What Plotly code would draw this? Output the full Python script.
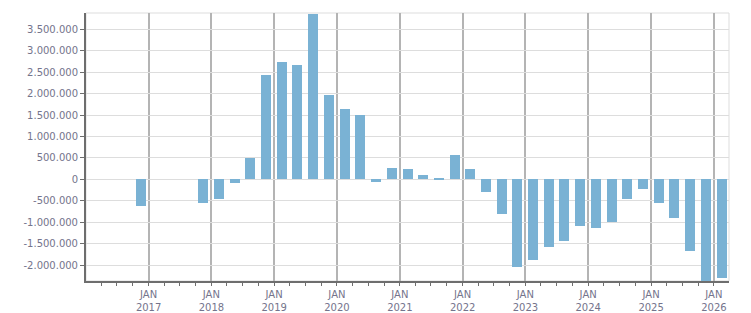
import plotly.graph_objects as go

quarters = ["2016-10-01", "2017-10-01",
            "2018-01-01", "2018-04-01", "2018-07-01", "2018-10-01",
            "2019-01-01", "2019-04-01", "2019-07-01", "2019-10-01",
            "2020-01-01", "2020-04-01", "2020-07-01", "2020-10-01",
            "2021-01-01", "2021-04-01", "2021-07-01", "2021-10-01",
            "2022-01-01", "2022-04-01", "2022-07-01", "2022-10-01",
            "2023-01-01", "2023-04-01", "2023-07-01", "2023-10-01",
            "2024-01-01", "2024-04-01", "2024-07-01", "2024-10-01",
            "2025-01-01", "2025-04-01", "2025-07-01", "2025-10-01",
            "2026-01-01"]
values = [-615000, -550000,
          -462000, -87000, 503000, 2448000,
          2730000, 2660000, 3870000, 1979000,
          1650000, 1509000, -63000, 265000,
          238000, 100000, 30000, 568000,
          240000, -298000, -815000, -2035000,
          -1871000, -1589000, -1448000, -1096000,
          -1143000, -1002000, -462000, -228000,
          -556000, -908000, -1683000, -2450000,
          -2293000]

y_tickvals = [-2000000, -1500000, -1000000, -500000, 0, 500000, 1000000,
              1500000, 2000000, 2500000, 3000000, 3500000]
y_ticktext = ["-2.000.000", "-1.500.000", "-1.000.000", "-500.000", "0",
              "500.000", "1.000.000", "1.500.000", "2.000.000", "2.500.000",
              "3.000.000", "3.500.000"]
x_tickvals = ["2017-01-01", "2018-01-01", "2019-01-01", "2020-01-01",
              "2021-01-01", "2022-01-01", "2023-01-01", "2024-01-01",
              "2025-01-01", "2026-01-01"]
x_ticktext = ["JAN<br>2017", "JAN<br>2018", "JAN<br>2019", "JAN<br>2020",
              "JAN<br>2021", "JAN<br>2022", "JAN<br>2023", "JAN<br>2024",
              "JAN<br>2025", "JAN<br>2026"]

DAY = 86400000
fig = go.Figure(go.Bar(
    x=quarters, y=values,
    xperiod="M3", xperiodalignment="middle",
    width=58 * DAY,
    marker=dict(color="#7ab2d4", line=dict(width=0)),
))

label_font = dict(family="DejaVu Sans", size=10, color="#74748c")

fig.update_layout(
    width=751, height=313,
    margin=dict(l=86, r=22, t=13, b=32),
    paper_bgcolor="white", plot_bgcolor="white",
    showlegend=False,
    bargap=0,
    shapes=[dict(type="rect", xref="paper", yref="paper", x0=0, x1=1, y0=0, y1=1,
                 line=dict(color="#dddddd", width=1), layer="below")],
)
fig.update_xaxes(
    type="date", automargin=False,
    range=["2016-01-03", "2026-03-30"],
    tickvals=x_tickvals, ticktext=x_ticktext,
    tickfont=label_font,
    showgrid=True, gridcolor="#b4b4b4", gridwidth=1.5,
    showline=True, linecolor="#6e6e6e", linewidth=2,
    ticks="outside", ticklen=3, tickcolor="#6e6e6e", tickwidth=1,
    minor=dict(dtick="M3", tick0="2016-01-01", ticks="outside", ticklen=3,
               tickcolor="#6e6e6e", showgrid=False),
    zeroline=False,
)
fig.update_yaxes(
    automargin=False,
    range=[-2372000, 3884000],
    tickvals=y_tickvals, ticktext=y_ticktext,
    tickfont=label_font,
    showgrid=True, gridcolor="#dddddd", gridwidth=1,
    showline=True, linecolor="#6e6e6e", linewidth=2,
    ticks="outside", ticklen=4, tickcolor="#6e6e6e", tickwidth=1,
    zeroline=False,
)

fig.write_html("out.html")
